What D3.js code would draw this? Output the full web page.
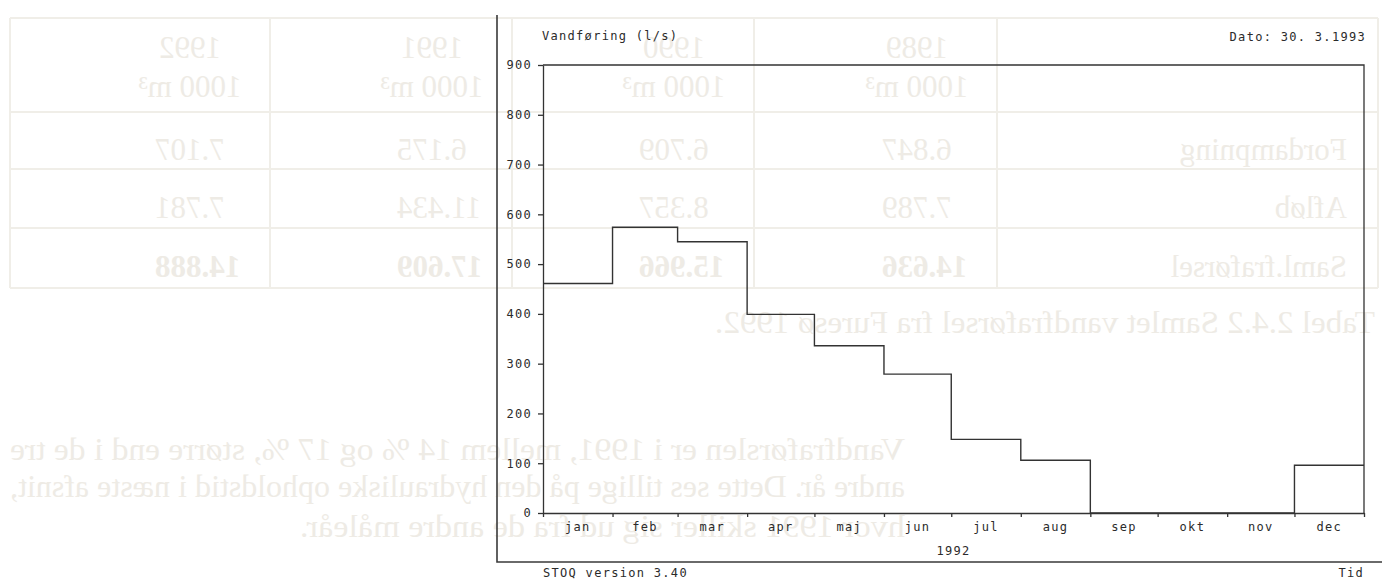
<!DOCTYPE html>
<html>
<head>
<meta charset="utf-8">
<script src="https://cdn.jsdelivr.net/npm/d3@7"></script>
<style>
  body { margin: 0; background: #fff; }
  svg { display: block; }
  .plot text { font-family: "DejaVu Sans Mono", monospace; font-size: 12px; letter-spacing: 1.3px; fill: #2b2b2b; }
  .bleed text { font-family: "Liberation Serif", serif; font-size: 31px; fill: #eeebe5; }
</style>
</head>
<body>
<div id="chart"></div>
<script>
//Data: monthly mean discharge 1992 (l/s)
const months = ['jan', 'feb', 'mar', 'apr', 'maj', 'jun', 'jul', 'aug', 'sep', 'okt', 'nov', 'dec'];
const flow = [461, 574, 545, 399, 336, 279, 148, 106, 0, 0, 0, 96];
const yTicks = [0, 100, 200, 300, 400, 500, 600, 700, 800, 900];
const year = 1992;

//Bleed-through of the reverse page (table + text, mirrored)
const tableYears = ['1989', '1990', '1991', '1992'];
const tableRows = ['Fordampning', 'Afløb', 'Saml.fraførsel'];
const tableValues = [
  ['6.847', '6.709', '6.175', '7.107'],
  ['7.789', '8.357', '11.434', '7.781'],
  ['14.636', '15.966', '17.609', '14.888']
];
const captionText = 'Tabel 2.4.2 Samlet vandfraførsel fra Furesø 1992.';
const paragraphLines = [
  'Vandfraførslen er i 1991, mellem 14 % og 17 %, større end i de tre',
  'andre år. Dette ses tillige på den hydrauliske opholdstid i næste afsnit,',
  'hvor 1991 skiller sig ud fra de andre måleår.'
];

const W = 1382, H = 581;
const svg = d3.select('#chart').append('svg').attr('width', W).attr('height', H);

/////
// Reverse page showing through (drawn unmirrored, then flipped)
/////
const bleed = svg.append('g').attr('class', 'bleed')
  .attr('transform', 'translate(' + W + ',0) scale(-1,1)');

const colEdges = [4, 385, 628, 870, 1112, 1372];
const rowEdges = [18, 112, 169, 228, 288];
const rowBase = [160, 218, 277];
const BLEED_LINE = '#f0eee8';

rowEdges.forEach(function(yy) {
  bleed.append('line').attr('x1', colEdges[0]).attr('x2', colEdges[5])
    .attr('y1', yy).attr('y2', yy).attr('stroke', BLEED_LINE).attr('stroke-width', 2);
});
colEdges.forEach(function(xx) {
  bleed.append('line').attr('x1', xx).attr('x2', xx)
    .attr('y1', rowEdges[0]).attr('y2', rowEdges[4]).attr('stroke', BLEED_LINE).attr('stroke-width', 2);
});

tableYears.forEach(function(yr, i) {
  const cx = colEdges[i + 1] + 80;
  bleed.append('text').attr('x', cx).attr('y', 58).attr('text-anchor', 'middle').text(yr);
  bleed.append('text').attr('x', cx).attr('y', 97).attr('text-anchor', 'middle').text('1000 m³');
});
tableRows.forEach(function(lbl, r) {
  bleed.append('text').attr('x', 35).attr('y', rowBase[r]).text(lbl);
  tableValues[r].forEach(function(v, c) {
    bleed.append('text').attr('x', colEdges[c + 1] + 115).attr('y', rowBase[r])
      .attr('text-anchor', 'end')
      .attr('font-weight', r === 2 ? 'bold' : null)
      .text(v);
  });
});

bleed.append('text').attr('x', 7).attr('y', 333)
  .attr('textLength', 660).attr('lengthAdjust', 'spacingAndGlyphs').text(captionText);

const parBase = [460, 497, 537];
const parWidth = [895, 895, 605];
paragraphLines.forEach(function(t, i) {
  bleed.append('text').attr('x', 477).attr('y', parBase[i])
    .attr('textLength', parWidth[i]).attr('lengthAdjust', 'spacingAndGlyphs').text(t);
});

/////
// Plot
/////
const plot = svg.append('g').attr('class', 'plot');
const INK = '#333';

const x = d3.scaleTime()
  .domain([new Date(year, 0, 1), new Date(year + 1, 0, 1)])
  .range([543, 1364]);

const y = d3.scaleLinear()
  .domain([0, 900])
  .range([513, 65]);

//Outer frame (left + bottom)
plot.append('path')
  .attr('d', 'M497,15V562H' + W)
  .attr('fill', 'none').attr('stroke', '#3a3a3a').attr('stroke-width', 1.6);

//Top and right border of plot area
plot.append('path')
  .attr('d', 'M' + x.range()[0] + ',' + y(900) + 'H' + x.range()[1] + 'V' + y(0))
  .attr('fill', 'none').attr('stroke', INK).attr('stroke-width', 1.3);

//Eje Y
const yAxis = plot.append('g')
  .attr('transform', 'translate(' + x.range()[0] + ',0)')
  .call(d3.axisLeft(y).tickValues(yTicks).tickSize(5).tickSizeOuter(0).tickPadding(6));

//Eje X (month boundaries)
const boundaries = d3.range(13).map(function(i) { return new Date(year, i, 1); });
const xAxis = plot.append('g')
  .attr('transform', 'translate(0,' + y(0) + ')')
  .call(d3.axisBottom(x).tickValues(boundaries).tickFormat('').tickSize(4).tickSizeOuter(0));

[yAxis, xAxis].forEach(function(g) {
  g.attr('font-family', null).attr('font-size', null);
  g.selectAll('path, line').attr('stroke', INK).attr('stroke-width', 1.3);
  g.selectAll('text').attr('fill', '#2b2b2b');
});

//Month labels
plot.selectAll('.month')
  .data(months)
  .enter().append('text')
    .attr('class', 'month')
    .attr('x', function(d, i) { return (x(new Date(year, i, 1)) + x(new Date(year, i + 1, 1))) / 2; })
    .attr('y', 531)
    .attr('text-anchor', 'middle')
    .text(function(d) { return d; });

//Step line
const steps = months.map(function(m, i) { return { date: new Date(year, i, 1), v: flow[i] }; });
steps.push({ date: new Date(year + 1, 0, 1), v: flow[flow.length - 1] });

const line = d3.line()
  .x(function(d) { return x(d.date); })
  .y(function(d) { return y(d.v); })
  .curve(d3.curveStepAfter);

plot.append('path')
  .datum(steps)
  .attr('d', line)
  .attr('fill', 'none')
  .attr('stroke', INK)
  .attr('stroke-width', 1.4);

//Texts
plot.append('text').attr('x', 542).attr('y', 40).text('Vandføring (l/s)');
plot.append('text').attr('x', 1366).attr('y', 41).attr('text-anchor', 'end').text('Dato: 30. 3.1993');
plot.append('text').attr('x', (x.range()[0] + x.range()[1]) / 2).attr('y', 555).attr('text-anchor', 'middle').text(String(year));
plot.append('text').attr('x', 543).attr('y', 577).text('STOQ version 3.40');
plot.append('text').attr('x', 1364).attr('y', 577).attr('text-anchor', 'end').text('Tid');
</script>
</body>
</html>
